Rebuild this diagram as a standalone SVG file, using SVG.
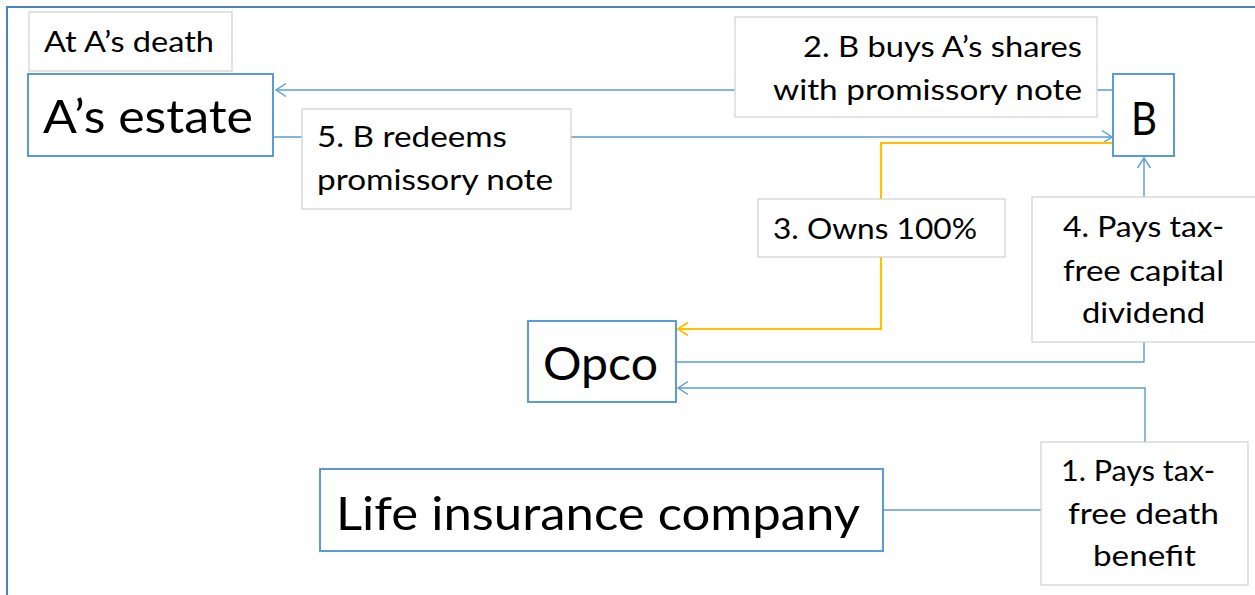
<svg xmlns="http://www.w3.org/2000/svg" width="1255" height="595" viewBox="0 0 1255 595">
  <style>
    .frame { fill: none; stroke: #4f81bd; stroke-width: 2; }
    .node rect { fill: #ffffff; stroke: #5b9bd5; stroke-width: 2; }
    .label rect { fill: #ffffff; stroke: #d0d0d0; stroke-width: 1.2; }
    text { font-family: Lato, "Open Sans", "Liberation Sans", sans-serif; fill: #000000; }
    .big { font-size: 47px; }
    .mid { font-size: 29px; }
    .link { fill: none; stroke: #5b9bd5; stroke-width: 1.4; }
    .own { fill: none; stroke: #ffc000; stroke-width: 2.2; }
  </style>
  <defs>
    <marker id="arrowBlue" markerUnits="userSpaceOnUse" markerWidth="16" markerHeight="16" viewBox="-12 -8 14 16" refX="0" refY="0" orient="auto">
      <path d="M-10,-6.5 L0,0 L-10,6.5" fill="none" stroke="#5b9bd5" stroke-width="1.4"/>
    </marker>
    <marker id="arrowGold" markerUnits="userSpaceOnUse" markerWidth="16" markerHeight="16" viewBox="-12 -8 14 16" refX="0" refY="0" orient="auto">
      <path d="M-10,-6.5 L0,0 L-10,6.5" fill="none" stroke="#ffc000" stroke-width="2"/>
    </marker>
  </defs>

  <rect width="1255" height="595" fill="#ffffff"/>
  <rect class="frame" x="7" y="7" width="1270" height="610"/>

  <!-- connectors -->
  <g id="connectors">
    <path class="link" d="M1113,90 H276" marker-end="url(#arrowBlue)"/>
    <path class="link" d="M273,137 H1112" marker-end="url(#arrowBlue)"/>
    <path class="own" d="M1113,143 H881 V329 H678" marker-end="url(#arrowGold)"/>
    <path class="link" d="M677,362 H1144 V158" marker-end="url(#arrowBlue)"/>
    <path class="link" d="M884,510 H1145 V388 H678" marker-end="url(#arrowBlue)"/>
  </g>

  <!-- connector labels -->
  <g id="label-heading" class="label">
    <rect x="29" y="12" width="203" height="59"/>
    <text class="mid" x="44" y="52" textLength="170" lengthAdjust="spacingAndGlyphs">At A’s death</text>
  </g>
  <g id="label-2" class="label">
    <rect x="735" y="17" width="362" height="100"/>
    <text class="mid" x="803" y="57" textLength="279" lengthAdjust="spacingAndGlyphs">2. B buys A’s shares</text>
    <text class="mid" x="773" y="100" textLength="309" lengthAdjust="spacingAndGlyphs">with promissory note</text>
  </g>
  <g id="label-5" class="label">
    <rect x="302" y="109" width="269" height="100"/>
    <text class="mid" x="317" y="147" textLength="190" lengthAdjust="spacingAndGlyphs">5. B redeems</text>
    <text class="mid" x="317" y="190" textLength="236" lengthAdjust="spacingAndGlyphs">promissory note</text>
  </g>
  <g id="label-3" class="label">
    <rect x="758" y="199" width="247" height="58"/>
    <text class="mid" x="773" y="239" textLength="204" lengthAdjust="spacingAndGlyphs">3. Owns 100%</text>
  </g>
  <g id="label-4" class="label">
    <rect x="1032" y="197" width="226" height="145"/>
    <text class="mid" x="1063" y="237" textLength="161" lengthAdjust="spacingAndGlyphs">4. Pays tax-</text>
    <text class="mid" x="1063" y="281" textLength="161" lengthAdjust="spacingAndGlyphs">free capital</text>
    <text class="mid" x="1082" y="323" textLength="123" lengthAdjust="spacingAndGlyphs">dividend</text>
  </g>
  <g id="label-1" class="label">
    <rect x="1041" y="442" width="207" height="143"/>
    <text class="mid" x="1061" y="481" textLength="154" lengthAdjust="spacingAndGlyphs">1. Pays tax-</text>
    <text class="mid" x="1068" y="524" textLength="151" lengthAdjust="spacingAndGlyphs">free death</text>
    <text class="mid" x="1093" y="566" textLength="103" lengthAdjust="spacingAndGlyphs">benefit</text>
  </g>

  <!-- nodes -->
  <g id="node-estate" class="node">
    <rect x="28" y="74" width="245" height="82"/>
    <text class="big" x="43" y="133" textLength="210" lengthAdjust="spacingAndGlyphs">A’s estate</text>
  </g>
  <g id="node-b" class="node">
    <rect x="1113" y="74" width="61" height="82"/>
    <text class="big" x="1131" y="135" textLength="26" lengthAdjust="spacingAndGlyphs">B</text>
  </g>
  <g id="node-opco" class="node">
    <rect x="528" y="321" width="148" height="81"/>
    <text class="big" x="543" y="380" textLength="115" lengthAdjust="spacingAndGlyphs">Opco</text>
  </g>
  <g id="node-insurer" class="node">
    <rect x="320" y="469" width="563" height="82"/>
    <text class="big" x="336" y="530" textLength="524" lengthAdjust="spacingAndGlyphs">Life insurance company</text>
  </g>
</svg>
